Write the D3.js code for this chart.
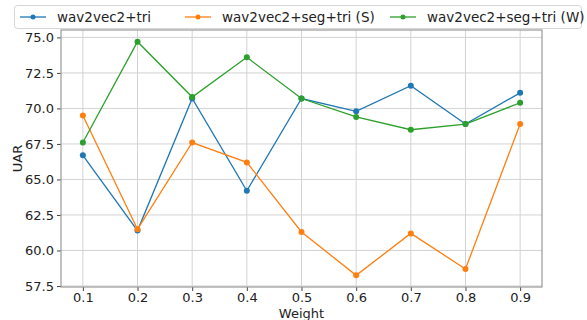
<!DOCTYPE html>
<html>
<head>
<meta charset="utf-8">
<script src="https://cdn.jsdelivr.net/npm/d3@7"></script>
<style>
  body { margin: 0; background: #fff; }
  text { font-family: "DejaVu Sans", sans-serif; }
</style>
</head>
<body>
<div id="chart"></div>
<script>
const weights = [0.1, 0.2, 0.3, 0.4, 0.5, 0.6, 0.7, 0.8, 0.9];
const triValues = [66.7, 61.4, 70.7, 64.2, 70.7, 69.8, 71.6, 68.9, 71.1];
const segSValues = [69.5, 61.5, 67.6, 66.2, 61.3, 58.25, 61.2, 58.7, 68.9];
const segWValues = [67.6, 74.7, 70.8, 73.6, 70.7, 69.4, 68.5, 68.9, 70.4];
const seriesNames = ["wav2vec2+tri", "wav2vec2+seg+tri (S)", "wav2vec2+seg+tri (W)"];
const yTicks = [57.5, 60.0, 62.5, 65.0, 67.5, 70.0, 72.5, 75.0];

const colors = ["#1f77b4", "#ff7f0e", "#2ca02c"];
const series = [triValues, segSValues, segWValues].map((vals, i) => ({
  name: seriesNames[i],
  color: colors[i],
  values: vals.map((v, j) => ({ w: weights[j], v: v }))
}));

const width = 587, height = 320;
const plotLeft = 61, plotRight = 542, plotTop = 30, plotBottom = 287;

const svg = d3.select("#chart").append("svg")
  .attr("width", width)
  .attr("height", height);

/* Scales, with matplotlib-like 5% margins */
const allVals = triValues.concat(segSValues, segWValues);
const yMin = d3.min(allVals), yMax = d3.max(allVals);
const yPad = (yMax - yMin) * 0.05;
const xScale = d3.scaleLinear().domain([0.06, 0.94]).range([plotLeft, plotRight]);
const yScale = d3.scaleLinear().domain([yMin - yPad, yMax + yPad]).range([plotBottom, plotTop]);

/* Grid */
const grid = svg.append("g");
grid.selectAll(".vg").data(weights).enter().append("line")
  .attr("x1", d => xScale(d)).attr("x2", d => xScale(d))
  .attr("y1", plotTop).attr("y2", plotBottom)
  .attr("stroke", "#d3d3d3").attr("stroke-width", 1);
grid.selectAll(".hg").data(yTicks).enter().append("line")
  .attr("x1", plotLeft).attr("x2", plotRight)
  .attr("y1", d => yScale(d)).attr("y2", d => yScale(d))
  .attr("stroke", "#d3d3d3").attr("stroke-width", 1);

/* Axes */
const xAxis = d3.axisBottom(xScale).tickValues(weights).tickFormat(d3.format(".1f")).tickSize(4).tickPadding(2);
const yAxis = d3.axisLeft(yScale).tickValues(yTicks).tickFormat(d3.format(".1f")).tickSize(4).tickPadding(3);

const gx = svg.append("g").attr("transform", `translate(0, ${plotBottom})`).call(xAxis);
const gy = svg.append("g").attr("transform", `translate(${plotLeft}, 0)`).call(yAxis);
[gx, gy].forEach(g => {
  g.select(".domain").remove();
  g.selectAll(".tick line").attr("stroke", "#444");
  g.selectAll(".tick text").attr("fill", "#222").style("font-size", "13px")
    .style("font-family", "DejaVu Sans, sans-serif");
});

/* Frame */
svg.append("rect")
  .attr("x", plotLeft).attr("y", plotTop)
  .attr("width", plotRight - plotLeft).attr("height", plotBottom - plotTop)
  .attr("fill", "none").attr("stroke", "#999").attr("stroke-width", 1.2);

/* Lines and markers */
const line = d3.line().x(d => xScale(d.w)).y(d => yScale(d.v));
const lines = svg.append("g");
series.forEach(s => {
  lines.append("path")
    .attr("d", line(s.values))
    .attr("fill", "none")
    .attr("stroke", s.color)
    .attr("stroke-width", 1.3);
  lines.selectAll(null).data(s.values).enter().append("circle")
    .attr("cx", d => xScale(d.w))
    .attr("cy", d => yScale(d.v))
    .attr("r", 3)
    .attr("fill", s.color);
});

/* Axis labels */
svg.append("text")
  .attr("x", (plotLeft + plotRight) / 2).attr("y", 318)
  .attr("text-anchor", "middle")
  .style("font-size", "13px").attr("fill", "#222")
  .text("Weight");
svg.append("text")
  .attr("transform", `translate(22, ${(plotTop + plotBottom) / 2}) rotate(-90)`)
  .attr("text-anchor", "middle")
  .style("font-size", "13px").attr("fill", "#222")
  .text("UAR");

/* Legend */
const legend = svg.append("g");
legend.append("rect")
  .attr("x", 14.5).attr("y", 5.5)
  .attr("width", 567).attr("height", 23)
  .attr("rx", 3)
  .attr("fill", "#fff").attr("fill-opacity", 0.85)
  .attr("stroke", "#d5d5d5");
const legendX = [20, 185, 390];
series.forEach((s, i) => {
  const g = legend.append("g").attr("transform", `translate(${legendX[i]}, 17)`);
  g.append("line").attr("x1", 0).attr("x2", 26).attr("y1", 0).attr("y2", 0)
    .attr("stroke", s.color).attr("stroke-width", 1.3);
  g.append("circle").attr("cx", 13).attr("cy", 0).attr("r", 2.5).attr("fill", s.color);
  g.append("text").attr("x", 37).attr("y", 5)
    .style("font-size", "13.5px").attr("fill", "#222")
    .text(s.name);
});
</script>
</body>
</html>
